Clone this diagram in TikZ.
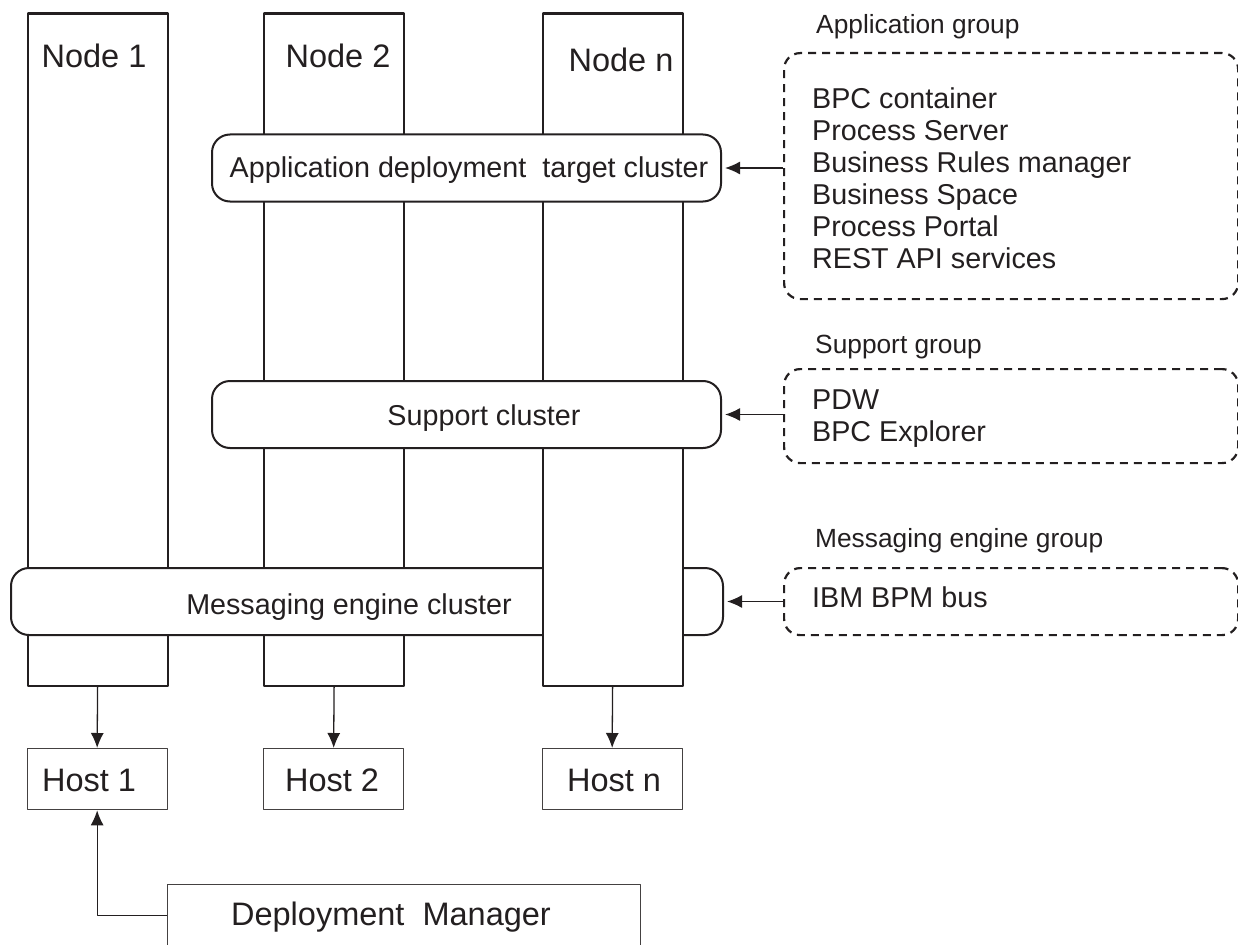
\documentclass[tikz,border=0pt]{standalone}
\usepackage{fontspec}
\setmainfont{Liberation Sans}
\usetikzlibrary{arrows.meta}
\definecolor{ink}{HTML}{231F20}
\tikzset{
  column/.style={draw=ink, fill=white, line width=2.2pt, minimum width=140pt, minimum height=672.5pt, anchor=north west, inner sep=0pt},
  cluster/.style={draw=ink, fill=white, line width=2pt, rounded corners=18pt, minimum height=67pt, anchor=north west, inner sep=0pt},
  hostbox/.style={draw=ink!85, line width=1.3pt, minimum width=140pt, minimum height=61pt, anchor=north west, inner sep=0pt},
  groupbox/.style={draw=ink, line width=2.2pt, dash pattern=on 8pt off 6pt, rounded corners=16pt, minimum width=454pt, anchor=north west, inner sep=0pt},
  biglabel/.style={anchor=base, inner sep=0pt, font=\fontsize{32.5}{36}\selectfont},
  textlabel/.style={anchor=base, inner sep=0pt},
  grouplabel/.style={anchor=base west, inner sep=0pt, font=\fontsize{26.3}{30}\selectfont},
  itemlabel/.style={anchor=base west, inner sep=0pt},
  link/.style={draw=ink, line width=1.3pt}
}
\begin{document}
\begin{tikzpicture}[x=1pt, y=-1pt, >={Latex[length=15pt,width=13pt]}, line join=round, text=ink, font=\fontsize{28.7}{32}\selectfont]
    \useasboundingbox (0,0) rectangle (1238,944);
    % nodes and clusters
    \node[column] (col1) at (26.5,12.5) {};
    \node[column] (col2) at (263,12.5) {};
    \node[cluster, minimum width=712pt] (mecl) at (10,567) {};
    \node[column] (coln) at (541.5,12.5) {};
    \node[cluster, minimum width=509pt] (adcl) at (211,133.5) {};
    \node[cluster, minimum width=509pt] (sucl) at (211,380) {};
    \node[biglabel] (lab1) at (94,68) {Node 1};
    \node[biglabel] (lab2) at (338,68) {Node 2};
    \node[biglabel] (labn) at (621,72) {Node n};
    \node[textlabel] (adtext) at (469,177.5) {Application deployment~ target cluster};
    \node[textlabel] (sutext) at (484,425) {Support cluster};
    \node[textlabel] (metext) at (349,614) {Messaging engine cluster};
    % hosts
    \node[hostbox] (host1) at (26.5,748) {};
    \node[hostbox] (host2) at (263,748) {};
    \node[hostbox] (hostn) at (541.5,748) {};
    \node[biglabel] (hlab1) at (89,791) {Host 1};
    \node[biglabel] (hlab2) at (332,791) {Host 2};
    \node[biglabel] (hlabn) at (614,791) {Host n};
    \node[hostbox, minimum width=473pt, minimum height=62pt] (dm) at (167,884) {};
    \node[biglabel] (dmlab) at (391,925) {Deployment~ Manager};
    \foreach \i in {1,2,n}
    \draw[link,->] (col\i.south) -- (host\i.north);
    \draw[link,->] (dm.west) -| (host1.south);
    % groups
    \node[groupbox, minimum height=246pt] (apgr) at (783,52) {};
    \node[groupbox, minimum height=94pt] (sugr) at (783,368) {};
    \node[groupbox, minimum height=67pt] (megr) at (783,567) {};
    \node[grouplabel] (aplab) at (816,34) {Application group};
    \node[grouplabel] (sulab) at (815,353) {Support group};
    \node[grouplabel] (melab) at (815,547) {Messaging engine group};
    \foreach \t [count=\k] in {BPC container, Process Server, Business Rules manager, Business Space, Process Portal, REST API services}
    \node[itemlabel] (apit\k) at (812,{108.3+32*(\k-1)}) {\t};
    \node[itemlabel] (suit1) at (812,409.3) {PDW};
    \node[itemlabel] (suit2) at (812,441) {BPC Explorer};
    \node[itemlabel] (meit1) at (812,607.3) {IBM BPM bus};
    \draw[link,->,shorten >=3pt] (apgr.west |- adcl.east) -- (adcl.east);
    \draw[link,->,shorten >=3pt] (sugr.west |- sucl.east) -- (sucl.east);
    \draw[link,->,shorten >=3pt] (megr.west |- mecl.east) -- (mecl.east);
\end{tikzpicture}
\end{document}
